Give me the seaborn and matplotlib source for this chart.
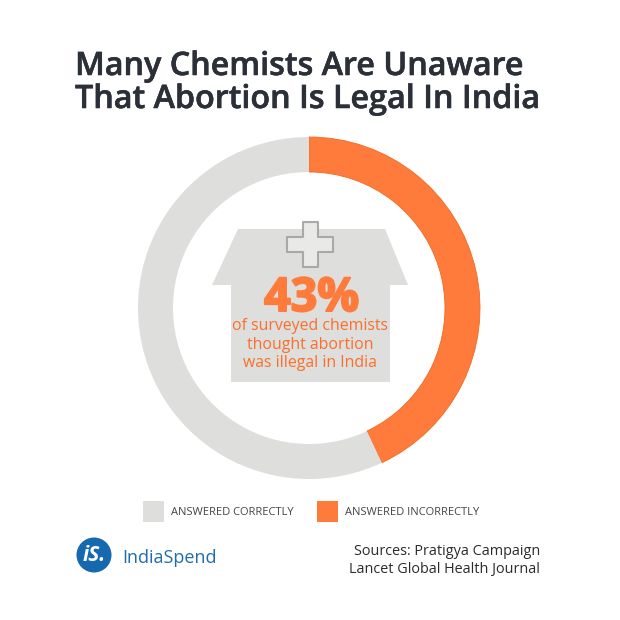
import matplotlib
matplotlib.use('Agg')
import matplotlib.pyplot as plt
import matplotlib.patheffects as pe
from matplotlib.patches import Polygon, Rectangle, Circle
import seaborn as sns

categories = ['ANSWERED INCORRECTLY', 'ANSWERED CORRECTLY']
shares = [43, 57]
colors = ['#fe7b3b', '#dededc']
title_lines = ['Many Chemists Are Unaware', 'That Abortion Is Legal In India']
sub_lines = ['of surveyed chemists', 'thought abortion', 'was illegal in India']
source_lines = ['Sources: Pratigya Campaign', 'Lancet Global Health Journal']

sns.set_theme(style='white')
plt.rcParams['font.family'] = ['Open Sans', 'DejaVu Sans']

fig = plt.figure(figsize=(6.2, 6.2), dpi=100, facecolor='white')

# the ring
ax = fig.add_axes([(309 - 171) / 620, (620 - 308 - 171) / 620, 342 / 620, 342 / 620])
wedges, _ = ax.pie(shares, colors=colors, startangle=90, counterclock=False, radius=1,
                   wedgeprops=dict(width=35 / 171, linewidth=0))
wedges[0].set_edgecolor('#f26a25')
wedges[0].set_linewidth(0.6)
ax.set_xlim(-1, 1)
ax.set_ylim(-1, 1)
ax.axis('off')

# everything else in pixel coordinates
top = fig.add_axes([0, 0, 1, 1])
top.set_xlim(0, 620)
top.set_ylim(620, 0)
top.axis('off')
top.patch.set_alpha(0)

for i, line in enumerate(title_lines):
    top.text(75, 75 + i * 33, line, fontsize=23.25, fontweight='semibold', color='#2b2f38',
             ha='left', va='baseline',
             path_effects=[pe.withStroke(linewidth=0.4, foreground='#2b2f38')])

house = [(238, 229), (385, 229), (408, 285), (390, 285), (390, 382), (231, 382), (231, 285), (212, 285)]
top.add_patch(Polygon(house, closed=True, facecolor=colors[1], edgecolor='none'))

plus = [(303, 222), (318, 222), (318, 237), (333, 237), (333, 252), (318, 252), (318, 267),
        (303, 267), (303, 252), (287, 252), (287, 237), (303, 237)]
top.add_patch(Polygon(plus, closed=True, facecolor='#e9e9e8', edgecolor='#a9a9a9', linewidth=1.5,
                      joinstyle='round'))

top.text(311.5, 311, '43%', fontsize=33.5, fontweight='bold', color=colors[0], ha='center', va='baseline',
         path_effects=[pe.withStroke(linewidth=1.5, foreground=colors[0])])
for i, line in enumerate(sub_lines):
    top.text(310, 330 + i * 18.7, line, fontsize=11.4, color='#fb6f2c', ha='center', va='baseline')

# legend
for x, label, c in zip([143, 317], categories[::-1], colors[::-1]):
    top.add_patch(Rectangle((x, 501), 21, 21, facecolor=c, edgecolor='none'))
    top.text(x + 28, 515, label, fontsize=8.05, color='#444444', ha='left', va='baseline')

# logo and sources
top.add_patch(Circle((94, 555), 17.5, facecolor='#1669ae', edgecolor='none'))
top.text(94, 561, 'iS.', fontsize=15, fontweight='bold', fontstyle='italic', color='white',
         ha='center', va='baseline')
top.text(122, 563, 'IndiaSpend', fontsize=13, color='#1f6cae', ha='left', va='baseline')
for i, line in enumerate(source_lines):
    top.text(540, 555 + i * 18, line, fontsize=10.35, color='#2b2b2b', ha='right', va='baseline')

fig.savefig('out.png', dpi=100, facecolor='white')
